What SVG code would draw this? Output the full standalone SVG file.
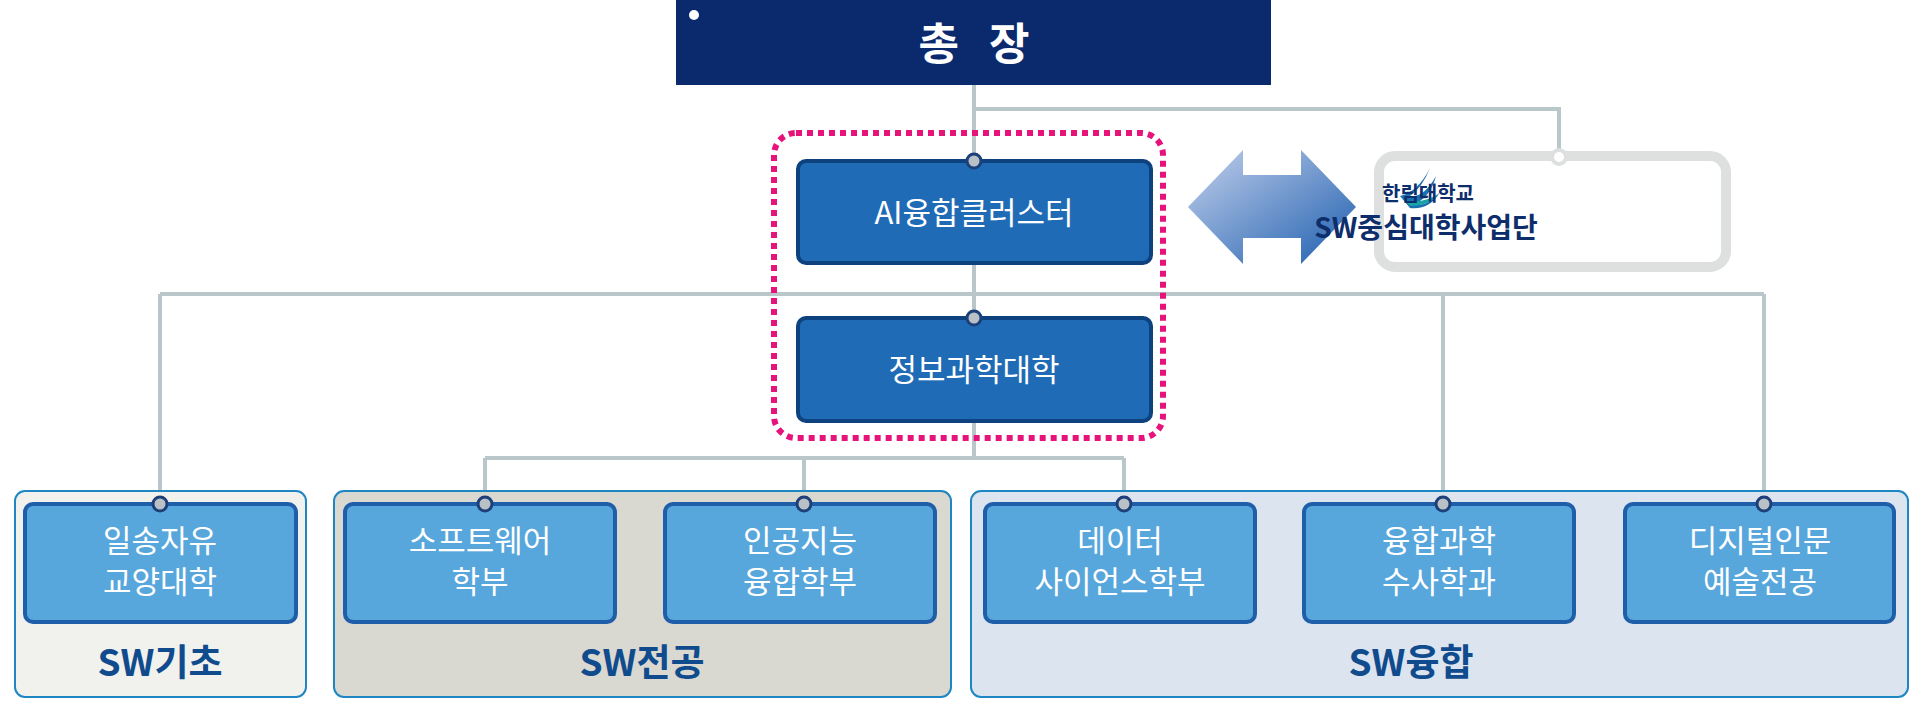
<svg xmlns="http://www.w3.org/2000/svg" width="1924" height="709" viewBox="0 0 1924 709">
<defs>
<style>
text{font-family:"Noto Sans CJK KR","Noto Sans",sans-serif;text-anchor:middle}
.ln{stroke:#b9c6ca;stroke-width:4;fill:none}
.dot{fill:#b9c1c6;stroke:#1d3f7a;stroke-width:3}
.mid{fill:#1f6bb5;stroke:#0d427f;stroke-width:4}
.ch{fill:#57a6dc;stroke:#1f5ea8;stroke-width:4}
.wt{fill:#fff;font-size:31px}
.gl{fill:#0f4b8d;font-size:37px;font-weight:700}
.grp{stroke:#1f86c4;stroke-width:2}
</style>
<linearGradient id="ag" x1="0" y1="0" x2="1" y2="1">
<stop offset="0" stop-color="#c3d0ec"/><stop offset="1" stop-color="#1d5eae"/>
</linearGradient>
</defs>
<g id="connectors">
<path class="ln" d="M974 85V318M974 109H1559V157M160 294H1764M160 294V504M1443 294V504M1764 294V504M974 421V458M485 458H1124M485 458V504M804 458V504M1124 458V504"/>
</g>
<g id="groups">
<rect class="grp" x="15" y="491" width="291" height="206" rx="10" fill="#f1f1ed"/>
<rect class="grp" x="334" y="491" width="617" height="206" rx="10" fill="#d9d8d1"/>
<rect class="grp" x="971" y="491" width="937" height="206" rx="10" fill="#dce5ef"/>
<text class="gl" x="160" y="676">SW기초</text>
<text class="gl" x="642" y="676">SW전공</text>
<text class="gl" x="1411" y="676">SW융합</text>
</g>
<g id="president">
<rect x="676" y="0" width="595" height="85" fill="#0b2a6e"/>
<circle cx="694" cy="15" r="5" fill="#fff"/>
<text x="974" y="60" fill="#fff" font-size="44" font-weight="700" xml:space="preserve">총   장</text>
</g>
<rect x="774" y="133" width="389" height="305" rx="22" fill="none" stroke="#e5137a" stroke-width="6" stroke-dasharray="6 5"/>
<g id="ai">
<rect class="mid" x="798" y="161" width="353" height="102" rx="8"/>
<circle class="dot" cx="974" cy="161" r="7"/>
<text class="wt" x="974" y="224" font-size="33">AI융합클러스터</text>
</g>
<g id="info">
<rect class="mid" x="798" y="318" width="353" height="103" rx="8"/>
<circle class="dot" cx="974" cy="318" r="7"/>
<text class="wt" x="974" y="381" font-size="33">정보과학대학</text>
</g>
<g id="arrow">
<polygon points="1188,207 1243,150 1243,175 1301,175 1301,150 1356,207 1301,264 1301,238 1243,238 1243,264" fill="url(#ag)"/>
</g>
<g id="logo">
<rect x="1379" y="156" width="347" height="111" rx="16" fill="#fff" stroke="#dedfdf" stroke-width="10"/>
<circle cx="1559" cy="157" r="7" fill="#fff" stroke="#dedfdf" stroke-width="4"/>
<path d="M1400 196q18-4 30-28q-8 20-20 28q14 2 26-20q-6 22-22 28q12 4 26-12q-10 18-30 16z" fill="#1a6fb0"/>
<path d="M1404 200q20 4 34-6q-8 12-28 12z" fill="#1aa3a6"/>
<text x="1428" y="201" fill="#0d2d6b" font-size="20" font-weight="700" text-anchor="start">한림대학교</text>
<text x="1426" y="238" fill="#0d2d6b" font-size="28" font-weight="700" text-anchor="start">SW중심대학사업단</text>
</g>
<g id="n1"><rect class="ch" x="25" y="504" width="271" height="118" rx="8"/><circle class="dot" cx="160" cy="504" r="7"/><text class="wt" x="160" y="552">일송자유</text><text class="wt" x="160" y="593">교양대학</text></g>
<g id="n2"><rect class="ch" x="345" y="504" width="270" height="118" rx="8"/><circle class="dot" cx="485" cy="504" r="7"/><text class="wt" x="480" y="552">소프트웨어</text><text class="wt" x="480" y="593">학부</text></g>
<g id="n3"><rect class="ch" x="665" y="504" width="270" height="118" rx="8"/><circle class="dot" cx="804" cy="504" r="7"/><text class="wt" x="800" y="552">인공지능</text><text class="wt" x="800" y="593">융합학부</text></g>
<g id="n4"><rect class="ch" x="985" y="504" width="270" height="118" rx="8"/><circle class="dot" cx="1124" cy="504" r="7"/><text class="wt" x="1120" y="552">데이터</text><text class="wt" x="1120" y="593">사이언스학부</text></g>
<g id="n5"><rect class="ch" x="1304" y="504" width="270" height="118" rx="8"/><circle class="dot" cx="1443" cy="504" r="7"/><text class="wt" x="1439" y="552">융합과학</text><text class="wt" x="1439" y="593">수사학과</text></g>
<g id="n6"><rect class="ch" x="1625" y="504" width="269" height="118" rx="8"/><circle class="dot" cx="1764" cy="504" r="7"/><text class="wt" x="1760" y="552">디지털인문</text><text class="wt" x="1760" y="593">예술전공</text></g>
</svg>
